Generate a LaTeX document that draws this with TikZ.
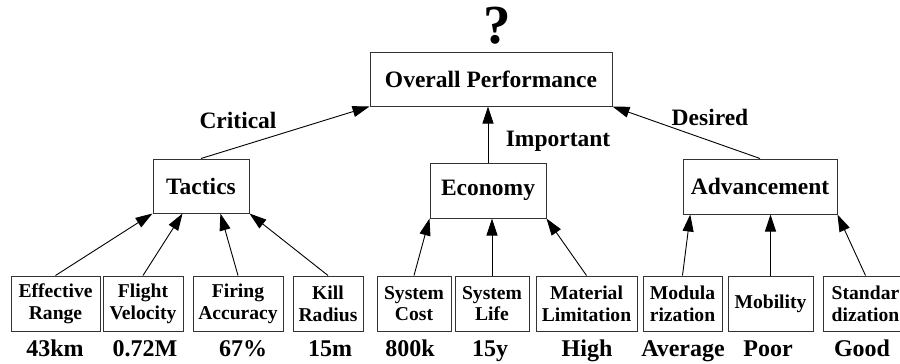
\documentclass[tikz,border=0pt]{standalone}
\usepackage{fontspec}
\setmainfont{Liberation Serif}
\usetikzlibrary{arrows.meta,calc}

\begin{document}
\begin{tikzpicture}[x=1pt, y=-1pt, >={Triangle[length=17pt,width=11pt]},
  box/.style={draw=black!80, line width=1pt, inner sep=0pt, minimum height=54pt,
    font=\fontsize{23.5}{27}\selectfont\bfseries},
  leaf/.style={draw=black!80, line width=1pt, inner sep=0pt, minimum height=55pt,
    align=center, font=\fontsize{19.6}{21.7}\selectfont\bfseries},
  val/.style={anchor=base, inner sep=0pt, font=\fontsize{24}{27}\selectfont\bfseries},
  lbl/.style={font=\fontsize{23.5}{27}\selectfont\bfseries},
  arr/.style={->, line width=0.9pt}]
  \useasboundingbox (0,0) rectangle (900,364);

  % top level
  \node[font=\fontsize{55}{58}\selectfont\bfseries] (q) at (497.5,26) {?};
  \node[box, minimum width=242pt] (ov) at (491,79) {Overall Performance};

  % criteria
  \node[box, minimum width=96pt] (tac) at (201,186) {Tactics};
  \node[box, minimum width=116pt, minimum height=55pt] (eco) at (488,190.5) {Economy};
  \node[box, minimum width=154pt, minimum height=55pt] (adv) at (760,186.5) {Advancement};

  \node[lbl] (crit) at (238,120) {Critical};
  \node[lbl] (imp) at (558,141) {Important};
  \node[lbl] (des) at (710,117) {Desired};

  % indicators
  \node[leaf, minimum width=89pt] (eff) at (55.5,303.5) {Effective\\Range};
  \node[leaf, minimum width=80pt] (flt) at (143,303.5) {Flight\\Velocity};
  \node[leaf, minimum width=90pt] (fir) at (238,303.5) {Firing\\Accuracy};
  \node[leaf, minimum width=70pt] (kil) at (328,303.5) {Kill\\Radius};
  \node[leaf, minimum width=74pt] (cst) at (414,303.5) {System\\Cost};
  \node[leaf, minimum width=74pt] (lif) at (492,303.5) {System\\Life};
  \node[leaf, minimum width=101pt] (mat) at (586.5,303.5) {Material\\Limitation};
  \node[leaf, minimum width=79pt] (mdl) at (682.5,303.5) {Modula\\rization};
  \node[leaf, minimum width=85pt] (mob) at (770.5,303.5) {Mobility};
  \node[leaf, minimum width=85pt] (std) at (865.5,303.5) {Standar\\dization};

  % values
  \node[val] (v1) at (55,356.5) {43km};
  \node[val] (v2) at (145,356.5) {0.72M};
  \node[val] (v3) at (243,356.5) {67\%};
  \node[val] (v4) at (330,356.5) {15m};
  \node[val] (v5) at (410,356.5) {800k};
  \node[val] (v6) at (490,356.5) {15y};
  \node[val] (v7) at (587,356.5) {High};
  \node[val] (v8) at (683,356.5) {Average};
  \node[val] (v9) at (768,356.5) {Poor};
  \node[val] (v10) at (862,356.5) {Good};

  % arrows to the top
  \draw[arr] (tac.north) -- (ov.south west);
  \draw[arr] (eco.north) -- (eco.north |- ov.south);
  \draw[arr] (adv.north) -- (ov.south east);

  % arrows to the criteria
  \draw[arr] (eff.north) -- (tac.south west);
  \draw[arr] (flt.north) -- ($(tac.south west)!0.31!(tac.south east)$);
  \draw[arr] (fir.north) -- ($(tac.south west)!0.70!(tac.south east)$);
  \draw[arr] (kil.north) -- (tac.south east);
  \draw[arr] (cst.north) -- (eco.south west);
  \draw[arr] (lif.north) -- (lif.north |- eco.south);
  \draw[arr] (mat.north) -- (eco.south east);
  \draw[arr] (mdl.north) -- ($(adv.south west)!0.05!(adv.south east)$);
  \draw[arr] (mob.north) -- (mob.north |- adv.south);
  \draw[arr] (std.north) -- (adv.south east);
\end{tikzpicture}
\end{document}
